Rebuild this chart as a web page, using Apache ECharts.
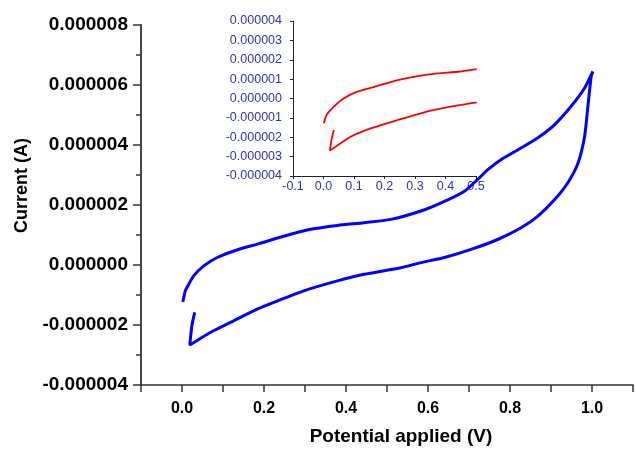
<!DOCTYPE html>
<html>
<head>
<meta charset="utf-8">
<script src="https://cdn.jsdelivr.net/npm/echarts@6/dist/echarts.min.js"></script>
<style>
    html, body { margin: 0; padding: 0; background: #fff; }
    #main { width: 636px; height: 451px; }
</style>
</head>
<body>
<div id="main"></div>
<script>
// main CV loop (potential V, current in microamps)
var blueV = [0.002, 0.008, 0.012, 0.028, 0.053, 0.086, 0.134, 0.19, 0.248, 0.314, 0.379, 0.444, 0.509, 0.583, 0.632, 0.689, 0.721, 0.746, 0.778, 0.827, 0.868, 0.909, 0.949, 0.982, 1.002,
             0.998, 0.990, 0.982, 0.966, 0.941, 0.909, 0.868, 0.827, 0.770, 0.705, 0.640, 0.583, 0.534, 0.444, 0.379, 0.297, 0.232, 0.183, 0.126, 0.069, 0.019, 0.024, 0.031];
var blueI = [-1.23, -0.86, -0.75, -0.37, -0.03, 0.25, 0.50, 0.72, 0.96, 1.19, 1.32, 1.41, 1.52, 1.80, 2.07, 2.46, 2.85, 3.18, 3.51, 3.90, 4.24, 4.68, 5.29, 5.90, 6.45,
             6.28, 5.29, 4.29, 3.40, 2.74, 2.18, 1.63, 1.24, 0.85, 0.52, 0.25, 0.08, -0.09, -0.31, -0.53, -0.86, -1.20, -1.47, -1.86, -2.25, -2.67, -2.03, -1.58];

// inset, 0 - 0.5 V window
var redUpV = [0.001, 0.010, 0.034, 0.067, 0.111, 0.177, 0.243, 0.309, 0.374, 0.440, 0.502];
var redUpI = [-1.28, -0.85, -0.42, 0.01, 0.35, 0.65, 0.95, 1.16, 1.30, 1.38, 1.52];
var redLowV = [0.502, 0.417, 0.330, 0.243, 0.155, 0.089, 0.021, 0.026, 0.034];
var redLowI = [-0.20, -0.42, -0.71, -1.11, -1.54, -1.97, -2.69, -2.14, -1.63];

function pairs(xs, ys){
    var out = [];
    for(var i = 0; i < xs.length; i++){
        out.push([xs[i], ys[i]]);
    }
    return out;
}

function amps(v){
    var a = v * 1e-6;
    if(Math.abs(a) < 1e-12){ a = 0; }
    return a.toFixed(6);
}

var font = 'Arial, "Liberation Sans", sans-serif';
var insetBlue = '#3232b4';

var chart = echarts.init(document.getElementById('main'));

var option = {
    animation: false,
    backgroundColor: '#fff',
    grid: [
        {left: 141, top: 25, right: 3, bottom: 65},
        {left: 293, top: 21, width: 183, height: 155}
    ],
    xAxis: [
        {
            gridIndex: 0, type: 'value', min: -0.1, max: 1.1, interval: 0.1,
            name: 'Potential applied (V)', nameLocation: 'middle', nameGap: 42,
            nameTextStyle: {fontFamily: font, fontSize: 19, fontWeight: 'bold', color: '#000', padding: [0, 0, 0, 28]},
            axisLine: {show: true, onZero: false, lineStyle: {color: '#333', width: 1.5}},
            axisTick: {show: true, length: 7, lineStyle: {color: '#333', width: 1.5}},
            splitLine: {show: false},
            axisLabel: {
                margin: 16, fontFamily: font, fontSize: 16, fontWeight: 'bold', color: '#000',
                formatter: function(v){
                    var k = Math.round(v * 10);
                    if(k < 0 || k > 10 || k % 2 != 0){ return ''; }
                    return (k / 10).toFixed(1);
                }
            }
        },
        {
            gridIndex: 1, type: 'value', min: -0.1, max: 0.5, interval: 0.1,
            axisLine: {show: true, onZero: false, lineStyle: {color: '#222', width: 1}},
            axisTick: {show: true, length: 3, lineStyle: {color: '#222'}},
            splitLine: {show: false},
            axisLabel: {
                margin: 4, fontFamily: font, fontSize: 12.5, color: insetBlue,
                formatter: function(v){ return (Math.round(v * 10) / 10).toFixed(1); }
            }
        }
    ],
    yAxis: [
        {
            gridIndex: 0, type: 'value', min: -4, max: 8, interval: 2,
            name: 'Current (A)', nameLocation: 'middle', nameGap: 109,
            nameTextStyle: {fontFamily: font, fontSize: 18, fontWeight: 'bold', color: '#000', padding: [0, 0, 0, 39]},
            axisLine: {show: true, onZero: false, lineStyle: {color: '#333', width: 1.8}},
            axisTick: {show: true, length: 8, lineStyle: {color: '#333', width: 1.5}},
            minorTick: {show: true, splitNumber: 2, length: 5, lineStyle: {color: '#333', width: 1.5}},
            splitLine: {show: false},
            axisLabel: {margin: 13, fontFamily: font, fontSize: 19, fontWeight: 'bold', color: '#000', formatter: amps}
        },
        {
            gridIndex: 1, type: 'value', min: -4, max: 4, interval: 1,
            axisLine: {show: true, onZero: false, lineStyle: {color: '#222', width: 1}},
            axisTick: {show: true, length: 3, lineStyle: {color: '#222'}},
            splitLine: {show: false},
            axisLabel: {margin: 11, fontFamily: font, fontSize: 12.5, color: insetBlue, formatter: amps}
        }
    ],
    series: [
        {
            type: 'line', xAxisIndex: 1, yAxisIndex: 1, data: pairs(redUpV, redUpI),
            showSymbol: false, smooth: 0.2, lineStyle: {color: '#ff0000', width: 1.8}, z: 2
        },
        {
            type: 'line', xAxisIndex: 1, yAxisIndex: 1, data: pairs(redLowV, redLowI),
            showSymbol: false, smooth: 0.2, lineStyle: {color: '#ff0000', width: 1.8}, z: 2
        },
        {
            type: 'line', xAxisIndex: 0, yAxisIndex: 0, data: pairs(blueV, blueI),
            showSymbol: false, smooth: 0.2, lineStyle: {color: '#0000ff', width: 3}, z: 5
        }
    ]
};

chart.setOption(option);
</script>
</body>
</html>
